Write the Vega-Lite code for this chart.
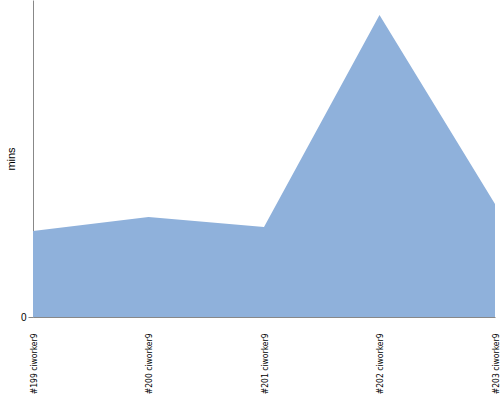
{
  "$schema": "https://vega.github.io/schema/vega-lite/v6.json",
  "width": 462,
  "height": 317,
  "autosize": {"type": "none"},
  "padding": {"left": 33, "top": 0, "right": 5, "bottom": 83},
  "background": "white",
  "config": {"view": {"stroke": null}},
  "data": {"values": [
    {"build": "#199 ciworker9", "mins": 86},
    {"build": "#200 ciworker9", "mins": 100},
    {"build": "#201 ciworker9", "mins": 90},
    {"build": "#202 ciworker9", "mins": 302},
    {"build": "#203 ciworker9", "mins": 113}
  ]},
  "mark": {"type": "area", "color": "#8fb1db", "opacity": 1},
  "encoding": {
    "x": {"field": "build", "type": "ordinal", "scale": {"type": "point", "padding": 0},
      "axis": {"title": null, "labelAngle": -90, "labelFontSize": 8.5, "labelFont": "DejaVu Sans Condensed", "ticks": false, "domainColor": "#888888", "labelColor": "#000000", "labelPadding": 16}},
    "y": {"field": "mins", "type": "quantitative", "scale": {"domain": [0, 317], "nice": false},
      "axis": {"title": "mins", "titleFontWeight": "normal", "titleFontSize": 11, "titleFont": "Liberation Sans", "titlePadding": 4, "values": [0], "grid": false, "domainColor": "#888888", "tickColor": "#888888", "labelFontSize": 10, "labelColor": "#000000", "labelFont": "Liberation Sans"}}
  }
}
